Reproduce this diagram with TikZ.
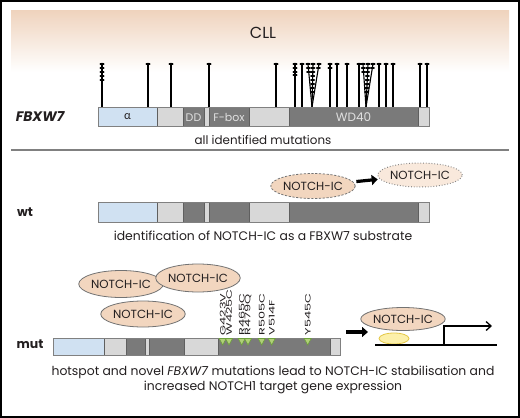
\documentclass[tikz,border=0pt]{standalone}
\usepackage{fontspec}
\setmainfont{Poppins}
\newfontfamily\latofont{Lato}
\usetikzlibrary{arrows.meta,shapes.geometric,calc}
\definecolor{peach}{RGB}{239,211,189}
\definecolor{ellfill}{RGB}{242,214,191}
\definecolor{ellfill2}{RGB}{249,233,220}
\definecolor{segblue}{RGB}{208,225,242}
\definecolor{seglight}{RGB}{216,216,216}
\definecolor{segdark}{RGB}{122,122,122}
\definecolor{segline}{RGB}{95,95,95}
\definecolor{txt}{RGB}{35,31,32}
\definecolor{trifill}{RGB}{176,208,120}
\definecolor{triline}{RGB}{110,160,60}
\definecolor{yelfill}{RGB}{252,240,170}
\definecolor{yelline}{RGB}{228,200,70}
\tikzset{
  seg/.style={draw=segline,line width=0.6pt},
  stem/.style={line width=1.1pt,black},
  bead/.style={fill=black},
  notch/.style={ellipse,fill=ellfill,draw=gray!90!black,line width=0.8pt,inner sep=0pt,font=\fontsize{11.8}{13}\selectfont,text=txt},
  caption/.style={font=\fontsize{12.4}{15}\selectfont,text=txt},
  seglab/.style={font=\fontsize{11}{12}\selectfont,text=white!88!black},
  sidelab/.style={font=\fontsize{12.5}{13}\selectfont\bfseries,text=txt},
  bigarrow/.style={line width=3.2pt,-{Triangle[length=6pt,width=10pt]}},
  mutlab/.style={rotate=90,anchor=west,inner sep=0pt,font=\fontsize{7.8}{8}\selectfont,text=txt},
  tri/.style={fill=trifill,draw=triline,line width=0.6pt},
}
\newcommand\fbxbar[2]{%
  \fill[seglight] (98,#1) rectangle (429,#2);
  \filldraw[seg,fill=segblue] (98,#1) rectangle (157,#2);
  \filldraw[seg,fill=seglight] (157,#1) rectangle (183,#2);
  \filldraw[seg,fill=segdark] (183,#1) rectangle (204,#2);
  \filldraw[seg,fill=seglight] (204,#1) rectangle (209,#2);
  \filldraw[seg,fill=segdark] (209,#1) rectangle (249,#2);
  \filldraw[seg,fill=seglight] (249,#1) rectangle (289,#2);
  \filldraw[seg,fill=segdark] (289,#1) rectangle (418,#2);
  \filldraw[seg,fill=seglight] (418,#1) rectangle (429,#2);
  \draw[draw=gray,line width=0.8pt] (98,#1) rectangle (429,#2);
}
% #1 x at bar, #2 x at top, #3 list of bead y
\newcommand\lol[3]{%
  \draw[stem] (#1,107) -- (#2,64);
  \foreach \yy in {#3}{%
    \pgfmathsetmacro\xx{#2+(#1-#2)*(\yy-64)/43}%
    \fill[bead] (\xx,\yy) ellipse (2.5 and 1.1);
  }%
}
\begin{document}
\begin{tikzpicture}[x=1pt,y=-1pt]
\useasboundingbox (0,0) rectangle (520,418);
\fill[white] (0,0) rectangle (520,418);
\shade[top color=peach,bottom color=white] (11,10) rectangle (509,72);
\draw[line width=2pt] (1,1) rectangle (519,417);
\draw[gray,line width=2pt] (11,150) -- (509,150);

% ---------- top panel ----------
\node[font=\fontsize{16}{18}\selectfont,text=txt] (cll) at (263,33) {CLL};
\lol{102}{102}{64,68,72,76,80}
\lol{148}{148}{64}
\lol{171}{171}{64}
\lol{209}{209}{64}
\lol{276}{276}{64}
\lol{295}{295}{64,68,72,75}
\lol{302}{302}{64}
\lol{312}{308}{64,68,72}
\lol{312}{313}{64,68,72,76,80,84,88,92}
\lol{312}{319}{64,68}
\lol{330}{330}{64,68}
\lol{337}{337}{64}
\lol{347}{347}{64}
\lol{359}{359}{64}
\lol{366}{363}{64,68,72}
\lol{366}{368}{64,68,72,76,80,84,88,92}
\lol{366}{373}{64,68}
\lol{379}{379}{64}
\lol{386}{386}{64}
\lol{393}{393}{64}
\lol{420}{420}{64}
\lol{427}{427}{64}
\fbxbar{107}{126}
\node[font=\fontsize{11.5}{12}\selectfont\latofont,text=txt] (alpha) at (127.5,117) {α};
\node[seglab] (dd) at (193.5,117.5) {DD};
\node[seglab] (fbox) at (229,117.5) {F-box};
\node[seglab,font=\fontsize{12}{13}\selectfont] (wd40) at (353.5,117.5) {WD40};
\node[font=\fontsize{13.8}{15}\selectfont\bfseries\itshape,text=txt] (fbxw7) at (40,117) {FBXW7};
\node[caption,font=\fontsize{11.9}{14}\selectfont] (allmut) at (263,140) {all identified mutations};

% ---------- wt panel ----------
\fbxbar{202}{222}
\node[sidelab] (wt) at (25,212) {wt};
\node[notch,dashed,dash pattern=on 2.2pt off 1.6pt,minimum width=80pt,minimum height=25pt] (n1) at (313,186) {NOTCH-IC};
\node[notch,fill=ellfill2,draw=gray,dotted,line width=1pt,minimum width=80pt,minimum height=24pt] (n2) at (420,175) {NOTCH-IC};
\draw[bigarrow,shorten <=3pt,shorten >=2pt] (n1) -- (n2);
\node[caption] (wtcap) at (263,236) {identification of NOTCH-IC as a FBXW7 substrate};

% ---------- mut panel ----------
\begin{scope}[xshift=-32pt,xscale=0.867]
\fbxbar{338}{355}
\end{scope}
\node[sidelab] (mut) at (30,344) {mut};
\node[notch,minimum width=74pt,minimum height=27pt] (e1) at (121,284) {NOTCH-IC};
\node[notch,minimum width=74pt,minimum height=28pt] (e2) at (198,278) {NOTCH-IC};
\node[notch,minimum width=72pt,minimum height=26pt] (e3) at (143,314) {NOTCH-IC};
\foreach \x/\lab in {222.7/G423V,229/W425C,241.7/R465C,248/R479Q,261.7/R505C,271.7/V514F,307.7/Y545C}{
  \node[mutlab] (m\lab) at (\x,335.5) {\scalebox{1.65}[1]{\lab}};
  \draw[tri] (\x-3.5,338.5) -- (\x+3.5,338.5) -- (\x,345) -- cycle;
}
\coordinate (a1) at (346,332);
\coordinate (a2) at (368,332);
\draw[bigarrow] (a1) -- (a2);
\node[ellipse,fill=yelfill,draw=yelline,line width=0.8pt,minimum width=30pt,minimum height=11pt,inner sep=0pt] (yel) at (394,338.5) {};
\node[notch,minimum width=73pt,minimum height=23pt] (n6) at (403,319) {NOTCH-IC};
\coordinate (bl1) at (375,345);
\coordinate (bl2) at (497,345);
\coordinate (p0) at (444,345);
\coordinate (p1) at (492,326);
\draw[line width=1.3pt] (bl1) -- (bl2);
\draw[line width=1.3pt,-{Straight Barb[length=5pt,width=9pt]}] (p0) |- (p1);
\node[caption,align=center] (mutcap) at (273,379.5) {hotspot and novel \textit{FBXW7} mutations lead to NOTCH-IC stabilisation and\\increased NOTCH1 target gene expression};
\end{tikzpicture}
\end{document}
